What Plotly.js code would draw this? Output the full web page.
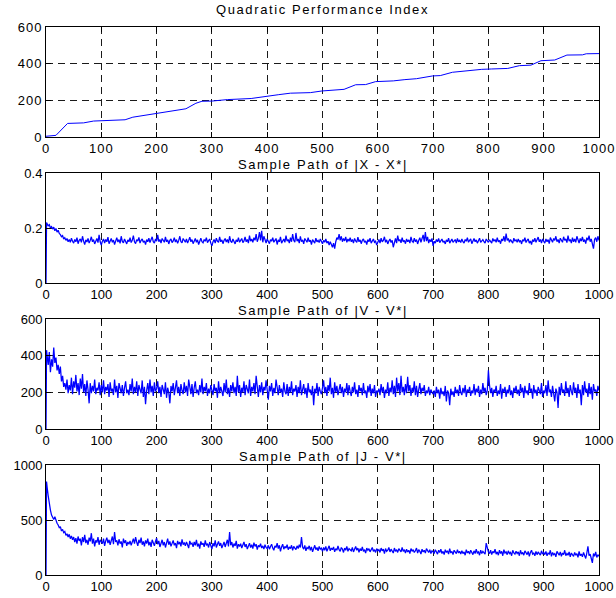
<!DOCTYPE html>
<html><head><meta charset="utf-8">
<script src="https://cdn.plot.ly/plotly-3.0.1.min.js"></script>
<style>
html,body{margin:0;padding:0;background:#fff;}
#chart{width:616px;height:598px;}
.xtick text,.ytick text{letter-spacing:1px;}
.annotation-text{letter-spacing:1.6px;}
</style></head><body><div id="chart"></div>
<script>
// Quadratic Performance Index (cumulative, read at breakpoints)
const qpiX = [0,18,39,68,86,143,157,185,200,228,253,271,282,300,328,371,400,421,442,478,499,528,539,560,578,596,628,649,670,699,713,735,763,788,806,835,856,877,895,920,942,970,977,1000];
const qpiY = [4,9,74,77,87,94,108,121,130,139,154,184,195,196,204,210,220,231,239,242,251,255,260,285,286,302,306,313,318,333,335,353,363,369,371,374,389,392,416,420,447,448,454,455];

// sample index for the noisy paths: 0, 1, then every 2nd step
const sampleIdx = [0, 1];
for (let k = 2; k <= 1000; k += 2) sampleIdx.push(k);

// Sample Path of |X - X*|
const xErr = [0, 0.22,
0.215,0.208,0.212,0.200,0.205,0.196,0.203,0.190,0.198,0.185,0.192,0.180,0.176,0.168,0.172,0.160,0.165,0.155,0.162,0.150,0.158,0.148,0.163,0.152,0.145,
0.158,0.150,0.165,0.143,0.155,0.160,0.148,0.170,0.152,0.140,0.157,0.149,0.162,0.145,0.155,0.168,0.150,0.158,0.142,0.153,0.162,0.147,0.175,0.150,0.138,
0.152,0.160,0.145,0.158,0.150,0.167,0.143,0.155,0.162,0.148,0.156,0.140,0.152,0.165,0.149,0.158,0.144,0.170,0.151,0.146,0.160,0.153,0.142,0.157,0.150,
0.165,0.147,0.155,0.172,0.150,0.143,0.158,0.152,0.166,0.145,0.155,0.160,0.148,0.153,0.140,0.158,0.150,0.163,0.147,0.155,0.168,0.150,0.145,0.160,0.152,
0.175,0.150,0.158,0.145,0.162,0.153,0.148,0.168,0.150,0.157,0.142,0.155,0.160,0.147,0.153,0.165,0.149,0.158,0.144,0.155,0.170,0.150,0.146,0.162,0.152,
0.148,0.160,0.145,0.155,0.167,0.150,0.158,0.143,0.153,0.162,0.148,0.157,0.140,0.155,0.163,0.150,0.146,0.158,0.152,0.165,0.147,0.154,0.160,0.145,0.135,
0.150,0.158,0.145,0.163,0.152,0.148,0.168,0.150,0.157,0.143,0.155,0.162,0.149,0.158,0.145,0.170,0.152,0.147,0.160,0.153,0.142,0.157,0.150,0.165,0.148,
0.155,0.162,0.147,0.153,0.168,0.150,0.158,0.145,0.172,0.152,0.160,0.148,0.165,0.155,0.178,0.150,0.162,0.185,0.155,0.190,0.148,0.170,0.158,0.145,0.160,
0.150,0.143,0.158,0.152,0.165,0.148,0.155,0.162,0.140,0.157,0.150,0.168,0.145,0.155,0.160,0.148,0.172,0.152,0.158,0.145,0.165,0.150,0.178,0.155,0.148,
0.182,0.152,0.160,0.145,0.170,0.150,0.157,0.142,0.162,0.153,0.148,0.165,0.150,0.156,0.140,0.158,0.152,0.145,0.163,0.150,0.155,0.147,0.160,0.150,0.143,
0.155,0.148,0.160,0.145,0.152,0.138,0.150,0.142,0.130,0.145,0.125,0.150,0.165,0.158,0.178,0.155,0.170,0.150,0.162,0.153,0.168,0.148,0.160,0.152,0.165,
0.150,0.158,0.145,0.162,0.153,0.148,0.167,0.150,0.157,0.143,0.155,0.160,0.148,0.153,0.140,0.158,0.150,0.163,0.145,0.155,0.160,0.148,0.152,0.138,0.150,
0.158,0.145,0.163,0.150,0.155,0.168,0.148,0.157,0.142,0.153,0.160,0.147,0.155,0.130,0.150,0.162,0.145,0.172,0.152,0.158,0.146,0.165,0.150,0.155,0.143,
0.160,0.150,0.157,0.145,0.168,0.152,0.148,0.163,0.150,0.158,0.142,0.155,0.165,0.148,0.160,0.175,0.150,0.185,0.152,0.168,0.145,0.158,0.150,0.162,0.135,
0.152,0.145,0.158,0.150,0.162,0.147,0.155,0.160,0.148,0.153,0.142,0.157,0.150,0.163,0.145,0.155,0.160,0.148,0.152,0.158,0.145,0.162,0.150,0.155,0.147,
0.160,0.150,0.145,0.158,0.152,0.165,0.148,0.155,0.160,0.143,0.153,0.162,0.150,0.157,0.145,0.155,0.163,0.148,0.152,0.158,0.150,0.145,0.160,0.153,0.148,
0.157,0.150,0.145,0.162,0.152,0.158,0.148,0.165,0.150,0.155,0.143,0.160,0.153,0.170,0.150,0.180,0.155,0.162,0.148,0.158,0.150,0.145,0.163,0.152,0.157,
0.148,0.160,0.150,0.155,0.142,0.158,0.152,0.165,0.147,0.155,0.160,0.145,0.153,0.140,0.158,0.150,0.163,0.148,0.155,0.167,0.150,0.158,0.145,0.160,0.152,
0.145,0.160,0.150,0.158,0.143,0.165,0.152,0.148,0.162,0.155,0.170,0.150,0.158,0.145,0.163,0.153,0.148,0.168,0.155,0.160,0.147,0.172,0.152,0.158,0.145,
0.165,0.150,0.160,0.148,0.170,0.155,0.145,0.162,0.152,0.168,0.150,0.158,0.143,0.165,0.155,0.172,0.150,0.160,0.145,0.125,0.158,0.165,0.150,0.170,0.155];

// Sample Path of |V - V*|
const vErr = [0, 430,
400,350,420,310,380,340,445,360,390,320,350,300,340,260,290,230,250,215,270,195,240,210,280,190,260,
225,295,205,250,185,275,220,300,200,245,180,265,215,140,250,195,235,205,270,190,225,210,255,185,240,
200,265,190,230,210,245,175,255,205,220,185,270,200,235,170,250,215,195,240,180,225,260,195,215,185,
245,205,275,190,230,200,260,180,240,215,195,265,175,230,135,210,250,190,270,200,235,180,255,205,220,
260,195,230,175,240,210,190,255,170,225,200,140,235,205,250,185,215,265,195,230,180,245,210,190,255,
200,235,180,270,210,190,245,175,225,260,195,215,185,240,200,275,190,230,205,250,180,220,195,240,210,
185,245,205,225,170,260,195,230,210,180,250,200,270,190,225,175,240,205,255,195,230,180,290,200,240,
175,225,200,260,185,240,210,195,270,180,230,205,250,190,290,215,175,240,200,255,185,230,210,265,195,
160,235,205,250,180,225,195,270,210,185,240,200,220,175,255,205,190,245,180,230,200,260,185,220,205,
240,175,230,195,265,185,210,245,190,225,170,250,200,215,185,235,130,220,195,250,180,230,205,190,225,
265,195,230,180,240,205,280,190,225,170,255,200,235,185,215,245,195,230,175,220,200,250,185,240,205,
180,230,200,255,190,215,175,240,205,225,185,250,195,210,170,235,200,245,180,220,195,240,175,210,200,
220,185,245,200,230,170,215,195,255,180,225,200,265,190,235,175,280,205,250,185,290,200,230,185,245,
195,285,205,240,180,225,200,260,185,235,175,215,250,190,225,205,240,180,210,195,230,185,215,200,190,
210,175,230,195,215,165,225,190,205,180,235,150,210,195,130,220,185,205,175,230,195,215,180,240,200,
185,225,195,240,175,215,200,230,180,210,195,245,185,220,200,235,175,215,190,250,200,225,185,210,320,
240,195,225,175,215,200,235,180,210,190,245,165,220,200,230,175,215,195,240,185,210,170,225,200,235,
190,215,180,245,200,225,170,235,195,210,185,250,200,220,165,240,195,215,180,230,205,190,250,175,210,
195,240,180,265,200,215,175,235,190,150,220,200,115,230,185,250,200,215,180,260,195,225,175,240,205,
185,255,200,225,170,245,195,215,130,240,185,260,200,220,175,250,190,230,160,245,205,215,180,235,210];

// Sample Path of |J - V*|
const jErr = [0, 850,
800,720,640,590,545,520,505,530,490,470,455,430,440,400,415,385,395,360,375,345,370,330,355,320,345,
300,335,285,350,310,330,270,345,300,365,290,320,275,340,305,380,285,330,260,315,295,345,275,320,300,
285,330,265,310,340,290,320,275,305,350,280,390,300,315,270,325,285,305,250,330,290,315,265,300,280,
310,270,295,330,285,345,300,265,320,290,340,275,305,260,315,285,330,270,300,255,320,290,265,305,335,
280,310,255,295,320,270,300,250,285,330,275,305,260,295,315,270,290,245,310,280,300,260,325,275,295,
265,300,275,245,310,280,290,255,300,270,320,260,285,240,305,275,290,255,315,270,285,250,300,265,235,
290,260,315,250,280,305,265,290,245,275,300,255,285,320,260,390,270,300,250,285,265,310,240,280,260,
285,245,275,300,255,280,235,265,290,250,275,240,295,260,280,230,270,255,285,245,265,235,275,250,240,
270,235,260,280,245,225,265,250,290,240,270,215,255,280,235,260,245,275,230,255,240,270,225,260,245,
230,265,240,275,250,345,255,235,270,220,250,240,265,225,255,210,245,270,230,250,220,260,235,245,215,
250,225,260,215,240,265,220,245,230,255,210,240,225,265,230,215,250,235,205,245,225,260,215,240,230,
220,250,210,235,260,225,245,205,240,220,255,215,230,200,245,225,240,210,235,250,215,230,205,240,220,
230,205,245,220,235,195,240,215,225,250,210,235,220,200,245,215,230,205,240,225,210,250,215,230,200,
235,210,225,195,240,215,230,205,220,245,200,230,215,190,235,210,225,200,240,215,205,230,195,220,210,
200,230,210,190,225,205,235,195,215,185,230,205,220,190,240,200,215,185,225,210,195,230,200,215,190,
220,195,210,180,230,200,215,190,225,205,185,220,195,235,200,210,180,225,195,215,205,190,290,240,210,
195,225,185,215,200,235,190,210,180,225,195,215,175,230,200,210,185,220,195,205,175,225,200,190,215,
195,210,175,225,190,205,180,220,195,185,215,170,205,225,190,200,175,215,185,210,195,180,220,190,205,
185,215,175,200,190,225,170,205,185,195,165,215,190,180,210,170,200,185,225,175,195,180,210,165,200,
185,170,205,180,195,160,215,175,190,165,205,180,150,200,260,175,190,150,110,195,170,210,160,185,170];

const titles = ['Quadratic Performance Index','Sample Path of |X - X*|','Sample Path of |V - V*|','Sample Path of |J - V*|'];
const yRanges = [[0,600],[0,0.4],[0,600],[0,1000]];
const yTicks = [[0,200,400,600],[0,0.2,0.4],[0,200,400,600],[0,500,1000]];
const xTicks = [0,100,200,300,400,500,600,700,800,900,1000];

const W = 616, H = 598;
const xDom = [46/W, 599/W];
const pxTop = [27,173,319,465], pxBot = [137,283,429,575];
const titleY = [10,164,310,456];
const font = {family:'Liberation Sans, Arial, sans-serif', size:13, color:'#000'};

const series = [[qpiX,qpiY],[sampleIdx,xErr],[sampleIdx,vErr],[sampleIdx,jErr]];
const data = series.map((s,i)=>({
  x:s[0].slice(0, s[1].length), y:s[1], type:'scatter', mode:'lines',
  xaxis: i===0?'x':'x'+(i+1), yaxis: i===0?'y':'y'+(i+1),
  line:{color:'#0000ff', width:i===0?1:1.25}, hoverinfo:'skip', showlegend:false
}));

const layout = {width:W, height:H, margin:{l:0,r:0,t:0,b:0}, paper_bgcolor:'#fff', plot_bgcolor:'#fff', showlegend:false, font:font, annotations:[]};
for (let i=0;i<4;i++){
  const sfx = i===0?'':String(i+1);
  const common = {showline:true, mirror:'ticks', linecolor:'#000', linewidth:1, ticks:'inside', ticklen:5, tickcolor:'#000',
    showgrid:true, gridcolor:'#1a1a1a', gridwidth:1, griddash:'7px,5px', zeroline:false, tickfont:font, fixedrange:true};
  layout['xaxis'+sfx] = Object.assign({}, common, {domain:xDom, range:[0,1000], tickmode:'array', tickvals:xTicks, anchor:'y'+sfx, ticklabelstandoff:-1});
  layout['yaxis'+sfx] = Object.assign({}, common, {domain:[1-pxBot[i]/H, 1-pxTop[i]/H], range:yRanges[i], tickmode:'array', tickvals:yTicks[i], anchor:'x'+sfx});
  layout.annotations.push({text:titles[i], xref:'paper', yref:'paper', x:(xDom[0]+xDom[1])/2, y:1-titleY[i]/H, xanchor:'center', yanchor:'middle', showarrow:false, font:font, borderpad:0});
}
Plotly.newPlot('chart', data, layout, {staticPlot:true, displayModeBar:false});
</script></body></html>
